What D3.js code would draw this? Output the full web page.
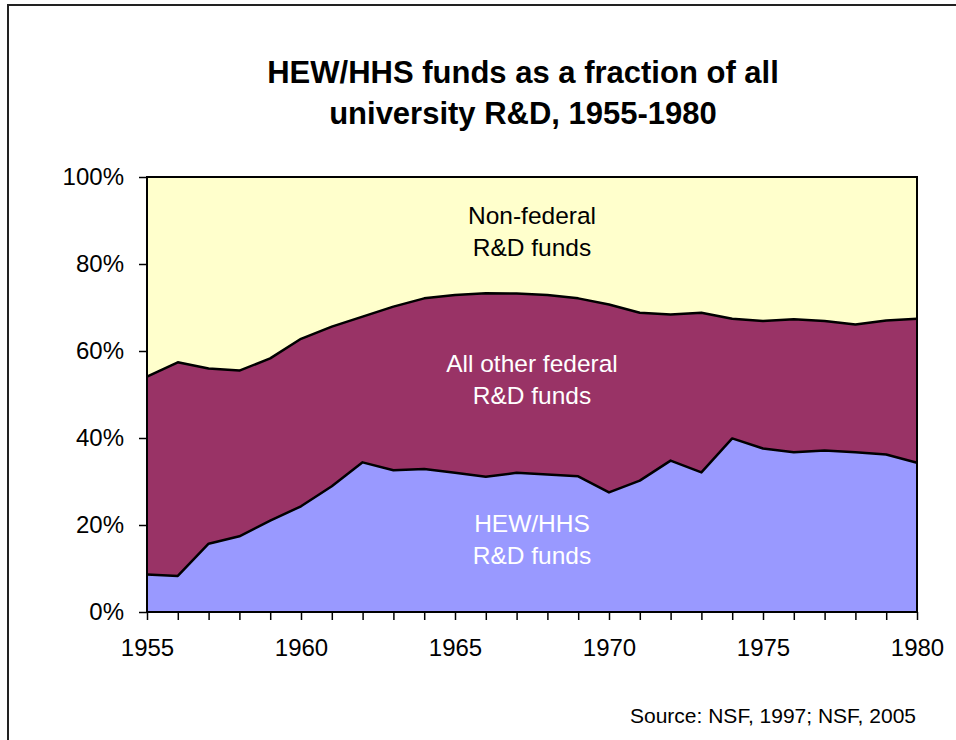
<!DOCTYPE html>
<html>
<head>
<meta charset="utf-8">
<script src="https://cdn.jsdelivr.net/npm/d3@7/dist/d3.min.js"></script>
<style>
  body { margin: 0; background: #fff; }
  text { font-family: "Liberation Sans", Arial, sans-serif; }
</style>
</head>
<body>
<div id="chart"></div>
<script>
// years 1955-1980, shares in percent
var years = d3.range(1955, 1981);
var hewHhs = [8.6, 8.3, 15.7, 17.4, 21.0, 24.3, 28.9, 34.4, 32.6, 32.9, 32.0, 31.1, 32.0,
              31.6, 31.2, 27.5, 30.2, 34.8, 32.1, 39.9, 37.6, 36.7, 37.1, 36.7, 36.2, 34.3];
var allFederal = [54.1, 57.4, 56.0, 55.5, 58.3, 62.8, 65.6, 67.9, 70.2, 72.1, 72.9, 73.3, 73.2,
                  72.9, 72.1, 70.7, 68.8, 68.4, 68.8, 67.4, 66.9, 67.3, 66.9, 66.1, 67.0, 67.4];
var yTicks = [0, 20, 40, 60, 80, 100];
var xTickLabels = [1955, 1960, 1965, 1970, 1975, 1980];
var seriesKeys = ["hew", "other", "nonfed"];
var seriesColors = { hew: "#9999ff", other: "#993366", nonfed: "#ffffcc" };
var areaLabels = [
  { key: "nonfed", lines: ["Non-federal", "R&D funds"], y: 89.2, color: "#000" },
  { key: "other", lines: ["All other federal", "R&D funds"], y: 55.2, color: "#fff" },
  { key: "hew", lines: ["HEW/HHS", "R&D funds"], y: 18.4, color: "#fff" }
];

var rows = years.map(function(yr, i) {
  return {
    year: yr,
    hew: hewHhs[i],
    other: allFederal[i] - hewHhs[i],
    nonfed: 100 - allFederal[i]
  };
});

var W = 956, H = 740;
var margin = { top: 177, right: 39, bottom: 128, left: 147 };
var width = W - margin.left - margin.right;
var height = H - margin.top - margin.bottom;

var svg = d3.select("#chart").append("svg")
    .attr("width", W)
    .attr("height", H);

// outer frame
svg.append("rect")
    .attr("x", 8).attr("y", 5)
    .attr("width", W + 20).attr("height", H + 20)
    .attr("fill", "none")
    .attr("stroke", "#222")
    .attr("stroke-width", 2);

svg.append("text")
    .attr("x", 523).attr("y", 83)
    .attr("text-anchor", "middle")
    .attr("font-size", "31px")
    .attr("font-weight", "bold")
    .text("HEW/HHS funds as a fraction of all");
svg.append("text")
    .attr("x", 523).attr("y", 124)
    .attr("text-anchor", "middle")
    .attr("font-size", "31px")
    .attr("font-weight", "bold")
    .text("university R&D, 1955-1980");

var g = svg.append("g")
    .attr("transform", "translate(" + margin.left + "," + margin.top + ")");

var x = d3.scaleLinear().domain([1955, 1980]).range([0, width]);
var y = d3.scaleLinear().domain([0, 100]).range([height, 0]);

var stacked = d3.stack().keys(seriesKeys)(rows);

var area = d3.area()
    .x(function(d) { return x(d.data.year); })
    .y0(function(d) { return y(d[0]); })
    .y1(function(d) { return y(d[1]); });

g.selectAll(".layer")
    .data(stacked)
    .enter()
    .append("path")
    .attr("class", "layer")
    .attr("d", area)
    .attr("fill", function(d) { return seriesColors[d.key]; });

// boundary lines between layers
var line = d3.line()
    .x(function(d) { return x(d.data.year); })
    .y(function(d) { return y(d[1]); });

g.selectAll(".edge")
    .data(stacked.slice(0, 2))
    .enter()
    .append("path")
    .attr("class", "edge")
    .attr("d", line)
    .attr("fill", "none")
    .attr("stroke", "#000")
    .attr("stroke-width", 2.5)
    .attr("stroke-linejoin", "round");

// plot frame
g.append("rect")
    .attr("width", width).attr("height", height)
    .attr("fill", "none")
    .attr("stroke", "#000")
    .attr("stroke-width", 2);

// area labels
areaLabels.forEach(function(lab) {
  var t = g.append("text")
      .attr("text-anchor", "middle")
      .attr("font-size", "24.5px")
      .attr("fill", lab.color);
  lab.lines.forEach(function(s, i) {
    t.append("tspan")
        .attr("x", x(1967.5))
        .attr("y", y(lab.y) + i * 32)
        .text(s);
  });
});

// x axis: tick every year, labels every 5
var xAxis = g.append("g")
    .attr("transform", "translate(0," + height + ")")
    .call(d3.axisBottom(x)
        .tickValues(years)
        .tickSize(8)
        .tickFormat(function(d) { return xTickLabels.indexOf(d) >= 0 ? d : ""; }));
xAxis.select(".domain").remove();
xAxis.selectAll("line").attr("stroke", "#000").attr("stroke-width", 1.5);
xAxis.selectAll("text")
    .attr("font-size", "24px")
    .attr("fill", "#000")
    .attr("y", 27)
    .attr("dy", "0.71em");

var yAxis = g.append("g")
    .call(d3.axisLeft(y)
        .tickValues(yTicks)
        .tickSize(8)
        .tickFormat(function(d) { return d + "%"; }));
yAxis.select(".domain").remove();
yAxis.selectAll("line").attr("stroke", "#000").attr("stroke-width", 1.5);
yAxis.selectAll("text")
    .attr("font-size", "24px")
    .attr("fill", "#000")
    .attr("x", -23);

svg.append("text")
    .attr("x", 916).attr("y", 723)
    .attr("text-anchor", "end")
    .attr("font-size", "21px")
    .text("Source: NSF, 1997; NSF, 2005");
</script>
</body>
</html>
